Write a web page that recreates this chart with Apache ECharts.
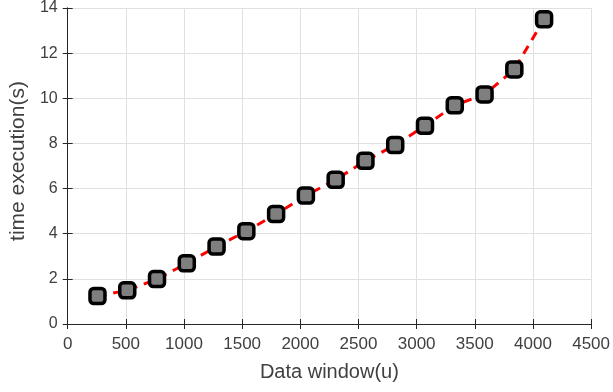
<!DOCTYPE html>
<html>
<head>
<meta charset="utf-8">
<script src="https://cdn.jsdelivr.net/npm/echarts@6/dist/echarts.min.js"></script>
<style>
  html, body { margin: 0; padding: 0; background: #fff; overflow: hidden; }
  #chart { width: 613px; height: 392px; }
</style>
</head>
<body>
<div id="chart"></div>
<script>
// Window sizes (u) and measured execution times (s)
const windowSizes = [256, 512, 768, 1024, 1280, 1536, 1792, 2048, 2304, 2560, 2816, 3072, 3328, 3584, 3840, 4096];
const execTimes = [1.24, 1.49, 1.99, 2.69, 3.43, 4.11, 4.87, 5.69, 6.39, 7.23, 7.93, 8.78, 9.69, 10.17, 11.28, 13.5];
const xTicks = { min: 0, max: 4500, step: 500 };
const yTicks = { min: 0, max: 14, step: 2 };

const points = windowSizes.map((x, i) => [x, execTimes[i]]);
const font = 'Liberation Sans, Arial, sans-serif';
const frame = '#262626';
const textColor = '#404040';
const plain = v => String(v);

const chart = echarts.init(document.getElementById('chart'), null, { renderer: 'canvas' });
chart.setOption({
  animation: false,
  backgroundColor: '#ffffff',
  grid: { left: 65, right: 13, top: 6, bottom: 68, containLabel: false },
  xAxis: [
    {
      type: 'value', min: xTicks.min, max: xTicks.max, interval: xTicks.step,
      name: 'Data window(u)', nameLocation: 'middle', nameGap: 38,
      nameTextStyle: { fontFamily: font, fontSize: 20, color: textColor },
      axisLine: { show: true, lineStyle: { color: frame, width: 1 } },
      axisTick: { show: true, inside: true, length: 5, lineStyle: { color: frame } },
      axisLabel: { fontFamily: font, fontSize: 17, color: textColor, margin: 12, formatter: plain },
      splitLine: { show: true, lineStyle: { color: '#e0e0e0', width: 1 } }
    },
    {
      type: 'value', position: 'top', min: xTicks.min, max: xTicks.max, interval: xTicks.step,
      axisLine: { show: true, lineStyle: { color: frame, width: 1 } },
      axisTick: { show: true, inside: true, length: 5, lineStyle: { color: frame } },
      axisLabel: { show: false },
      splitLine: { show: false }
    }
  ],
  yAxis: [
    {
      type: 'value', min: yTicks.min, max: yTicks.max, interval: yTicks.step,
      name: 'time execution(s)', nameLocation: 'middle', nameGap: 36, nameRotate: 90,
      nameTextStyle: { fontFamily: font, fontSize: 21, color: textColor, padding: [0, 0, 0, 10] },
      axisLine: { show: true, lineStyle: { color: frame, width: 1 } },
      axisTick: { show: true, inside: true, length: 5, lineStyle: { color: frame } },
      axisLabel: { fontFamily: font, fontSize: 16, color: textColor, margin: 10, formatter: plain },
      splitLine: { show: true, lineStyle: { color: '#e0e0e0', width: 1 } }
    },
    {
      type: 'value', position: 'right', min: yTicks.min, max: yTicks.max, interval: yTicks.step,
      axisLine: { show: true, lineStyle: { color: frame, width: 1 } },
      axisTick: { show: true, inside: true, length: 5, lineStyle: { color: frame } },
      axisLabel: { show: false },
      splitLine: { show: false }
    }
  ],
  series: [
    {
      type: 'line',
      data: points,
      xAxisIndex: 0, yAxisIndex: 0,
      lineStyle: { color: '#ff0000', width: 3, type: [9, 7] },
      symbol: 'roundRect',
      symbolSize: 15,
      itemStyle: { color: '#7f7f7f', borderColor: '#000000', borderWidth: 3.5 },
      z: 5
    }
  ]
});
</script>
</body>
</html>
